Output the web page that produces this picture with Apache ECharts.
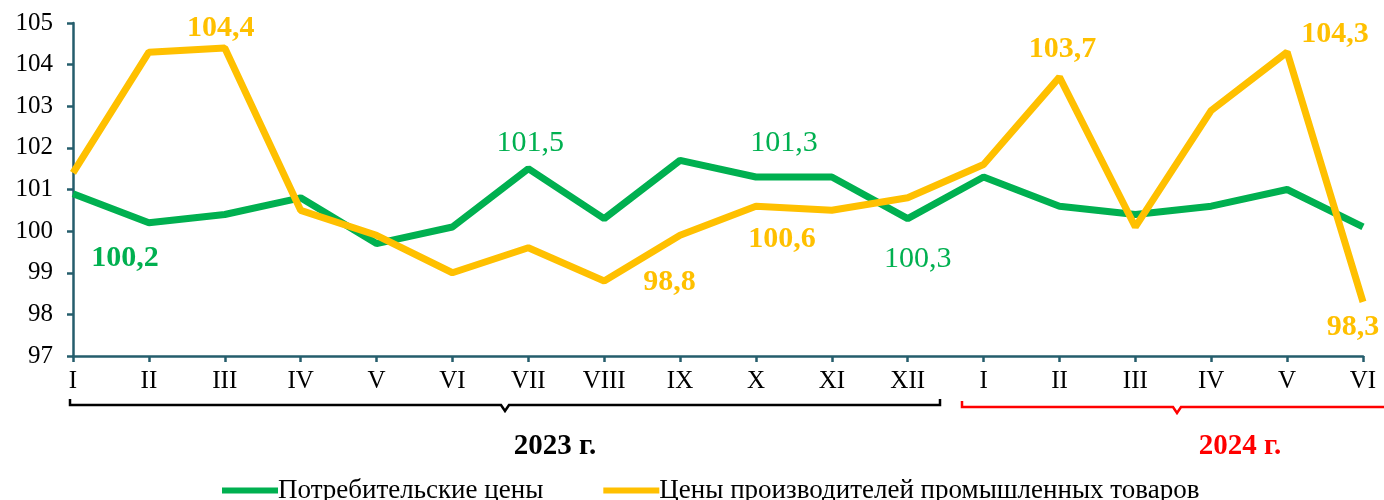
<!DOCTYPE html>
<html>
<head>
<meta charset="utf-8">
<script src="https://cdn.jsdelivr.net/npm/echarts@6/dist/echarts.min.js"></script>
<style>
  html, body { margin: 0; padding: 0; background: #fff; }
  #chart { width: 1384px; height: 500px; }
</style>
</head>
<body>
<div id="chart"></div>
<script>
// месяцы 2023 г. (I–XII) и 2024 г. (I–VI)
const months = ['I', 'II', 'III', 'IV', 'V', 'VI', 'VII', 'VIII', 'IX', 'X', 'XI', 'XII',
  'I', 'II', 'III', 'IV', 'V', 'VI']
const consumerPrices = [100.9, 100.2, 100.4, 100.8, 99.7, 100.1, 101.5, 100.3, 101.7, 101.3, 101.3, 100.3,
  101.3, 100.6, 100.4, 100.6, 101.0, 100.1]
const producerPrices = [101.4, 104.3, 104.4, 100.5, 99.9, 99.0, 99.6, 98.8, 99.9, 100.6, 100.5, 100.8,
  101.6, 103.7, 100.1, 102.9, 104.3, 98.3]
const seriesNames = ['Потребительские цены', 'Цены производителей промышленных товаров']
const yearLabels = ['2023 г.', '2024 г.']

const GREEN = '#00b050'
const YELLOW = '#ffc000'
const AXIS = '#255d6c'
const FONT = '"Liberation Serif", "Times New Roman", serif'

const fmt = (p) => String(p.value).replace('.', ',')

// подписи отдельных точек: индекс -> настройки label
const consumerLabelCfg = {
  1: { position: 'bottom', offset: [-24, 15], fontWeight: 'bold' },
  6: { position: 'top', offset: [2, -6] },
  9: { position: 'top', offset: [28, -14] },
  11: { position: 'bottom', offset: [10, 20] },
}
const producerLabelCfg = {
  2: { position: 'top', offset: [-4, 0] },
  7: { position: 'right', offset: [34, 1] },
  9: { position: 'bottom', offset: [26, 13] },
  13: { position: 'top', offset: [3, -8] },
  16: { position: 'top', offset: [48, 2] },
  17: { position: 'bottom', offset: [-10, 5] },
}

function buildData(values, cfg, color, weight) {
  return values.map((v, i) => {
    if (!cfg[i]) return v
    return {
      value: v,
      label: Object.assign({
        show: true,
        color: color,
        fontFamily: FONT,
        fontSize: 30,
        fontWeight: weight,
        formatter: fmt,
      }, cfg[i]),
    }
  })
}

// фигурные скобки под осью
function brace(x1, x2, xm, y, color) {
  return {
    type: 'polyline',
    shape: { points: [[x1, y - 6], [x1, y], [xm - 4, y], [xm, y + 6], [xm + 4, y], [x2, y], [x2, y - 6]] },
    style: { stroke: color, lineWidth: 2.5, fill: null },
    z: 10,
  }
}

const chart = echarts.init(document.getElementById('chart'), null, { renderer: 'canvas' })
chart.setOption({
  animation: false,
  backgroundColor: '#fff',
  textStyle: { fontFamily: FONT },
  grid: { left: 73, right: 21, top: 23, bottom: 144 },
  legend: {
    top: 472,
    left: 217,
    itemWidth: 56,
    itemHeight: 6,
    itemGap: 60,
    icon: 'rect',
    textStyle: { fontFamily: FONT, fontSize: 27, color: '#000', padding: [0, 0, 0, -5] },
    data: seriesNames,
  },
  xAxis: {
    type: 'category',
    data: months,
    boundaryGap: false,
    axisLine: { lineStyle: { color: AXIS, width: 2.5 } },
    axisTick: { alignWithLabel: true, length: 6, lineStyle: { color: AXIS, width: 2.5 } },
    axisLabel: { color: '#000', fontFamily: FONT, fontSize: 25, margin: 13 },
  },
  yAxis: {
    type: 'value',
    min: 97,
    max: 105,
    interval: 1,
    axisLine: { show: true, lineStyle: { color: AXIS, width: 2.5 } },
    axisTick: { show: true, length: 6, lineStyle: { color: AXIS, width: 2.5 } },
    axisLabel: { color: '#000', fontFamily: FONT, fontSize: 25, margin: 20 },
    splitLine: { show: false },
  },
  series: [
    {
      name: seriesNames[0],
      type: 'line',
      data: buildData(consumerPrices, consumerLabelCfg, GREEN, 'normal'),
      symbol: 'circle',
      symbolSize: 0,
      lineStyle: { color: GREEN, width: 7 },
      itemStyle: { color: GREEN },
      z: 2,
    },
    {
      name: seriesNames[1],
      type: 'line',
      data: buildData(producerPrices, producerLabelCfg, YELLOW, 'bold'),
      symbol: 'circle',
      symbolSize: 0,
      lineStyle: { color: YELLOW, width: 7 },
      itemStyle: { color: YELLOW },
      z: 3,
    },
  ],
  graphic: [
    brace(70, 940, 505, 405, '#000'),
    brace(962, 1390, 1177, 407, '#ff0000'),
    {
      type: 'text', x: 555, y: 447, z: 10,
      style: { text: yearLabels[0], fontFamily: FONT, fontSize: 29, fontWeight: 'bold', fill: '#000',
        align: 'center', verticalAlign: 'middle' },
    },
    {
      type: 'text', x: 1240, y: 447, z: 10,
      style: { text: yearLabels[1], fontFamily: FONT, fontSize: 29, fontWeight: 'bold', fill: '#ff0000',
        align: 'center', verticalAlign: 'middle' },
    },
  ],
})
</script>
</body>
</html>
